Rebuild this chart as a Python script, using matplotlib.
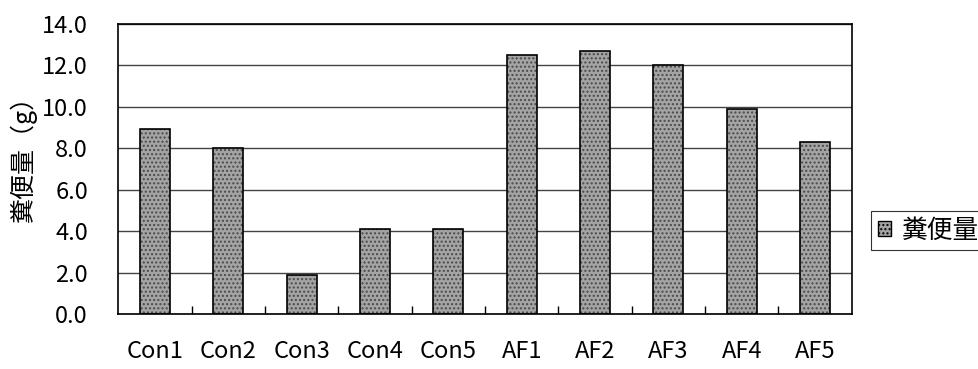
import numpy as np
import matplotlib.pyplot as plt
from matplotlib.ticker import FixedLocator, FormatStrFormatter

plt.rcParams['font.family'] = ['Noto Sans CJK JP', 'DejaVu Sans']

groups = ['Con1', 'Con2', 'Con3', 'Con4', 'Con5', 'AF1', 'AF2', 'AF3', 'AF4', 'AF5']
feces = [8.9, 8.0, 1.9, 4.1, 4.1, 12.5, 12.7, 12.0, 9.9, 8.3]
series_name = '糞便量'
y_label = '糞便量（g）'

fig = plt.figure(figsize=(9.79, 3.69), dpi=100)
ax = fig.add_axes([0.121, 0.149, 0.749, 0.787])

x = np.arange(len(groups))
# stippled fill first, then a clean black outline on top
ax.bar(x, feces, width=0.41, color='#a4a4a4', hatch='....',
       edgecolor='#4a4a4a', linewidth=0, zorder=2)
ax.bar(x, feces, width=0.41, fill=False, edgecolor='black',
       linewidth=1.2, zorder=3)

ax.set_xlim(-0.5, len(groups) - 0.5)
ax.set_ylim(0, 14)
ax.yaxis.set_major_locator(FixedLocator(np.arange(0, 14.1, 2)))
ax.yaxis.set_major_formatter(FormatStrFormatter('%.1f'))
ax.grid(axis='y', color='#444444', linewidth=1.0, zorder=1)
ax.set_axisbelow(True)

ax.set_xticks(x)
ax.set_xticklabels(groups)
ax.set_xticks(np.arange(0.5, len(groups) - 1, 1), minor=True)
ax.tick_params(axis='x', which='major', length=0, pad=19, labelsize=17)
ax.tick_params(axis='x', which='minor', direction='in', length=6, width=1)
ax.tick_params(axis='y', length=0, pad=22, labelsize=17)

for s in ax.spines.values():
    s.set_color('black')
    s.set_linewidth(1.2)

fig.text(0.024, 0.585, y_label, rotation=90, ha='center', va='center',
         fontsize=18)

handle = plt.Rectangle((0, 0), 1, 1, facecolor='#a4a4a4', hatch='....',
                       edgecolor='black', linewidth=1)
leg = fig.legend([handle], [series_name], loc='upper left',
                 bbox_to_anchor=(0.89, 0.427), frameon=True,
                 prop={'size': 18.5},
                 fancybox=False, edgecolor='black', handlelength=0.5,
                 handleheight=0.5, handletextpad=0.45, borderpad=0.25,
                 borderaxespad=0)
leg.get_frame().set_linewidth(0.8)

fig.savefig('out.png', dpi=100)
